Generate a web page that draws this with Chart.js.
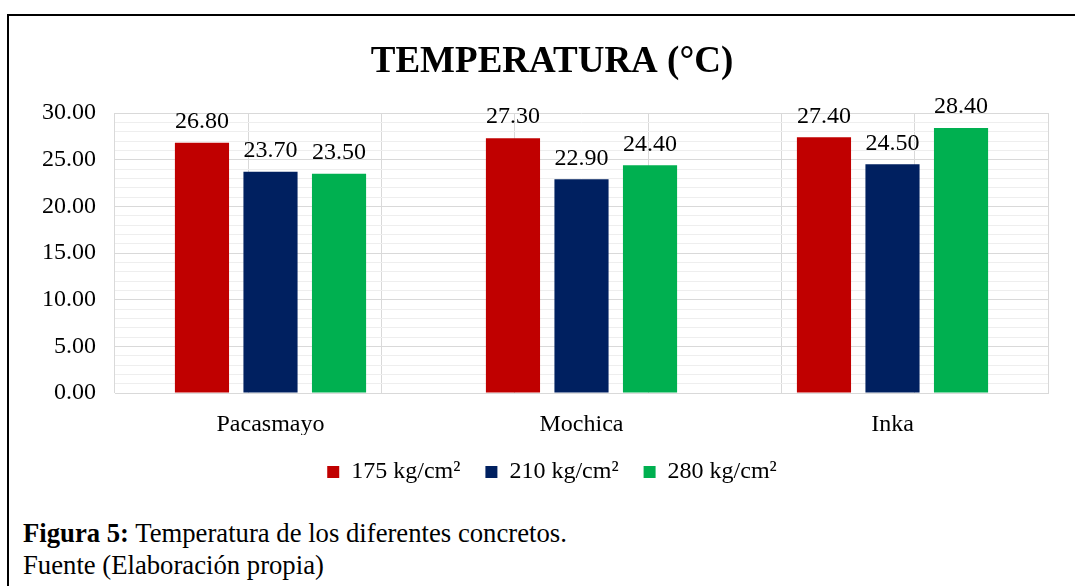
<!DOCTYPE html>
<html>
<head>
<meta charset="utf-8">
<script src="https://cdn.jsdelivr.net/npm/chart.js@4"></script>
<style>
  html, body { margin: 0; padding: 0; background: #fff; overflow: hidden; }
  body { width: 1075px; height: 586px; position: relative; }
  #frame { position: absolute; left: 7px; top: 14px; width: 1100px; height: 600px;
           border-left: 2px solid #000; border-top: 2px solid #000; }
  #chartTemp { position: absolute; left: 10px; top: 17px; }
  #caption { position: absolute; left: 23px; top: 517px; font-family: 'Liberation Serif', 'Times New Roman', serif;
             font-size: 26.7px; line-height: 32px; color: #000; }
  #caption p { margin: 0; white-space: nowrap; }
</style>
</head>
<body>
<div id="frame"></div>
<canvas id="chartTemp" width="1084" height="477"></canvas>
<div id="caption">
  <p><b>Figura 5:</b> Temperatura de los diferentes concretos.</p>
  <p>Fuente (Elaboración propia)</p>
</div>
<script>
const categorias = ['Pacasmayo', 'Mochica', 'Inka'];
const resistencias = ['175 kg/cm²', '210 kg/cm²', '280 kg/cm²'];
const temp175 = [26.80, 27.30, 27.40];
const temp210 = [23.70, 22.90, 24.50];
const temp280 = [23.50, 24.40, 28.40];
const coloresBarra = ['#C00000', '#002060', '#00B050'];
const ejeYMin = 0;
const ejeYMax = 30;

const fuenteSerif = "'Liberation Serif', 'Times New Roman', serif";

// etiquetas de valor encima de cada barra
const etiquetasValores = {
    id: 'etiquetasValores',
    afterDatasetsDraw(chart) {
        const ctx = chart.ctx;
        ctx.save();
        ctx.font = '24px ' + fuenteSerif;
        ctx.fillStyle = '#000';
        ctx.textAlign = 'center';
        ctx.textBaseline = 'bottom';
        chart.data.datasets.forEach((ds, i) => {
            chart.getDatasetMeta(i).data.forEach((bar, j) => {
                ctx.fillText(ds.data[j].toFixed(2), bar.x, bar.y - 9);
            });
        });
        ctx.restore();
    }
};

const seriesTemp = [temp175, temp210, temp280];

new Chart(document.getElementById('chartTemp'), {
    type: 'bar',
    data: {
        labels: categorias,
        datasets: resistencias.map((r, i) => ({
            label: r,
            data: seriesTemp[i],
            backgroundColor: coloresBarra[i],
            borderWidth: 0,
            categoryPercentage: 0.661,
            barPercentage: 0.79
        }))
    },
    options: {
        responsive: false,
        animation: false,
        layout: { padding: 0 },
        scales: {
            x: {
                grid: { display: false, drawTicks: false },
                border: { display: true, color: '#d9d9d9' },
                ticks: { color: '#000', padding: 17, font: { family: fuenteSerif, size: 24 } },
                afterFit: s => { s.height = 42; }
            },
            xGrid: {
                type: 'linear',
                position: 'bottom',
                min: 0,
                max: categorias.length * 2,
                ticks: { display: false, stepSize: 1 },
                grid: { color: '#d9d9d9', drawTicks: false },
                border: { display: false },
                afterFit: s => { s.height = 0; }
            },
            y: {
                min: ejeYMin,
                max: ejeYMax,
                border: { display: false },
                grid: {
                    drawTicks: false,
                    color: c => (c.tick.value % 5 === 0 ? '#d9d9d9' : '#eeeeee')
                },
                ticks: {
                    stepSize: 1,
                    autoSkip: false,
                    padding: 19,
                    color: '#000',
                    font: { family: fuenteSerif, size: 24 },
                    callback: v => (v % 5 === 0 ? v.toFixed(2) : '')
                },
                afterFit: s => { s.width = 105; }
            },
            // eje vacio a la derecha para centrar titulo y leyenda como en Excel
            yEspacio: {
                type: 'linear',
                position: 'right',
                grid: { display: false },
                border: { display: false },
                ticks: { display: false },
                afterFit: s => { s.width = 46; }
            }
        },
        plugins: {
            title: {
                display: true,
                text: 'TEMPERATURA (°C)',
                color: '#000',
                font: { family: fuenteSerif, size: 37, weight: 'bold' },
                padding: { top: 23, bottom: 28.6 }
            },
            legend: {
                position: 'bottom',
                labels: {
                    color: '#000',
                    boxWidth: 12,
                    boxHeight: 12,
                    padding: 25,
                    font: { family: fuenteSerif, size: 24 }
                }
            },
            tooltip: { enabled: false }
        }
    },
    plugins: [etiquetasValores]
});
</script>
</body>
</html>
